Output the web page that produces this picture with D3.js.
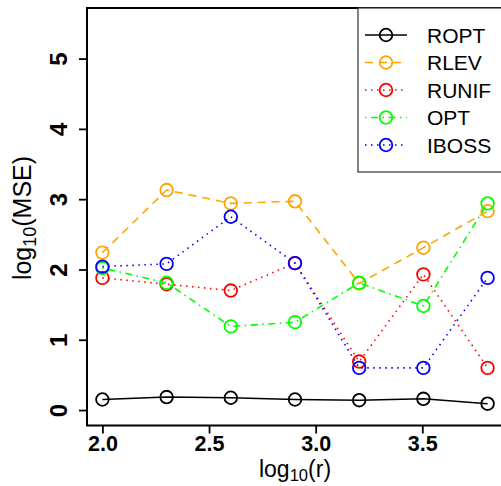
<!DOCTYPE html>
<html>
<head>
<meta charset="utf-8">
<script src="https://cdn.jsdelivr.net/npm/d3@7"></script>
<style>
  html, body { margin: 0; padding: 0; background: #fff; }
  svg { display: block; font-family: "Liberation Sans", Arial, Helvetica, sans-serif; }
</style>
</head>
<body>
<svg id="chart" width="501" height="486"></svg>
<script>
// Subsample sizes r (doubling), plotted as log10(r)
const sampleSizes = [100, 200, 400, 800, 1600, 3200, 6400];

// log10(MSE) for each method
const seriesNames = ["ROPT", "RLEV", "RUNIF", "OPT", "IBOSS"];
const ropt  = [0.15, 0.185, 0.175, 0.15, 0.14, 0.16, 0.09];
const rlev  = [2.24, 3.13, 2.94, 2.97, 1.80, 2.31, 2.83];
const runif = [1.88, 1.79, 1.70, 2.09, 0.69, 1.93, 0.60];
const opt   = [2.02, 1.81, 1.19, 1.25, 1.81, 1.48, 2.94];
const iboss = [2.04, 2.08, 2.75, 2.09, 0.60, 0.60, 1.88];

const xTicks = [2.0, 2.5, 3.0, 3.5];
const xTickLabels = ["2.0", "2.5", "3.0", "3.5"];
const yTicks = [0, 1, 2, 3, 4, 5];

const seriesValues = [ropt, rlev, runif, opt, iboss];
const seriesColors = ["#000000", "#FFA500", "#FF0000", "#00FF00", "#0000FF"];
const seriesDash = [null, "8,6", "1.5,4.5", "1.5,4.5,7,4.5", "1.5,4.5"];

const svg = d3.select("#chart");

// plotting region
const plotLeft = 87, plotRight = 503, plotTop = 8, plotBottom = 425.5;

const xs = sampleSizes.map(r => Math.log10(r));
const xPad = 0.04 * (d3.max(xs) - d3.min(xs));
const x = d3.scaleLinear()
  .domain([d3.min(xs) - xPad, d3.max(xs) + xPad])
  .range([plotLeft, plotRight]);
const yPad = 0.04 * 5.5;
const y = d3.scaleLinear()
  .domain([0 - yPad, 5.5 + yPad])
  .range([plotBottom, plotTop]);

// series: lines with open circles
const line = d3.line().x(d => x(d[0])).y(d => y(d[1]));
seriesValues.forEach((vals, i) => {
  const pts = xs.map((xv, j) => [xv, vals[j]]);
  const g = svg.append("g");
  g.append("path")
    .attr("d", line(pts))
    .attr("fill", "none")
    .attr("stroke", seriesColors[i])
    .attr("stroke-width", 1.6)
    .attr("stroke-dasharray", seriesDash[i]);
  g.selectAll("circle").data(pts).join("circle")
    .attr("cx", d => x(d[0]))
    .attr("cy", d => y(d[1]))
    .attr("r", 6.3)
    .attr("fill", "none")
    .attr("stroke", seriesColors[i])
    .attr("stroke-width", 1.8);
});

// x axis
const xAxis = d3.axisBottom(x).tickValues(xTicks)
  .tickFormat((d, i) => xTickLabels[i]).tickSize(8).tickPadding(2);
const gx = svg.append("g").attr("transform", `translate(0,${plotBottom})`).call(xAxis);
gx.select(".domain").remove();
gx.selectAll(".tick line").attr("stroke", "#000").attr("stroke-width", 1.8);
gx.selectAll(".tick text")
  .attr("font-size", 21.5).attr("font-weight", "bold").attr("fill", "#000")
  .attr("font-family", "Liberation Sans, Arial, sans-serif");

// y axis with rotated labels
const yAxis = d3.axisLeft(y).tickValues(yTicks).tickSize(8).tickFormat(d3.format("d"));
const gy = svg.append("g").attr("transform", `translate(${plotLeft},0)`).call(yAxis);
gy.select(".domain").remove();
gy.selectAll(".tick line").attr("stroke", "#000").attr("stroke-width", 1.8);
gy.selectAll(".tick text")
  .attr("x", null).attr("dy", null)
  .attr("transform", "translate(-20,0) rotate(-90)")
  .attr("text-anchor", "middle")
  .attr("font-size", 24).attr("font-weight", "bold").attr("fill", "#000")
  .attr("font-family", "Liberation Sans, Arial, sans-serif");

// plot frame
svg.append("rect")
  .attr("x", plotLeft).attr("y", plotTop)
  .attr("width", plotRight - plotLeft).attr("height", plotBottom - plotTop)
  .attr("fill", "none").attr("stroke", "#000").attr("stroke-width", 2);

// axis titles with subscripts
function subTitle(sel, base, sub, rest, shift) {
  sel.append("tspan").text(base);
  sel.append("tspan").attr("font-size", "0.72em").attr("dy", shift + "em").text(sub);
  sel.append("tspan").attr("dy", (-shift * 0.72) + "em").text(rest);
}
const xt = svg.append("text")
  .attr("x", 295).attr("y", 477)
  .attr("text-anchor", "middle").attr("font-size", 23).attr("fill", "#000");
subTitle(xt, "log", "10", "(r)", 0.25);

const yt = svg.append("text")
  .attr("transform", "translate(31,218) rotate(-90)")
  .attr("text-anchor", "middle").attr("font-size", 25).attr("fill", "#000");
subTitle(yt, "log", "10", "(MSE)", 0.3);

// legend
const lgLeft = 358, lgTop = 8, lgBottom = 172;
svg.append("rect")
  .attr("x", lgLeft).attr("y", lgTop)
  .attr("width", plotRight - lgLeft).attr("height", lgBottom - lgTop)
  .attr("fill", "#fff").attr("stroke", "#333").attr("stroke-width", 1.2);
const lgY = d3.scalePoint().domain(seriesNames).range([35, 145]);
seriesNames.forEach((name, i) => {
  const yy = lgY(name);
  svg.append("line")
    .attr("x1", 365).attr("x2", 407).attr("y1", yy).attr("y2", yy)
    .attr("stroke", seriesColors[i]).attr("stroke-width", 1.6)
    .attr("stroke-dasharray", seriesDash[i]);
  svg.append("circle")
    .attr("cx", 386).attr("cy", yy).attr("r", 6.3)
    .attr("fill", "none").attr("stroke", seriesColors[i]).attr("stroke-width", 1.8);
  svg.append("text")
    .attr("x", 427).attr("y", yy).attr("dy", "0.36em")
    .attr("font-size", 21).attr("fill", "#000").text(name);
});
</script>
</body>
</html>
